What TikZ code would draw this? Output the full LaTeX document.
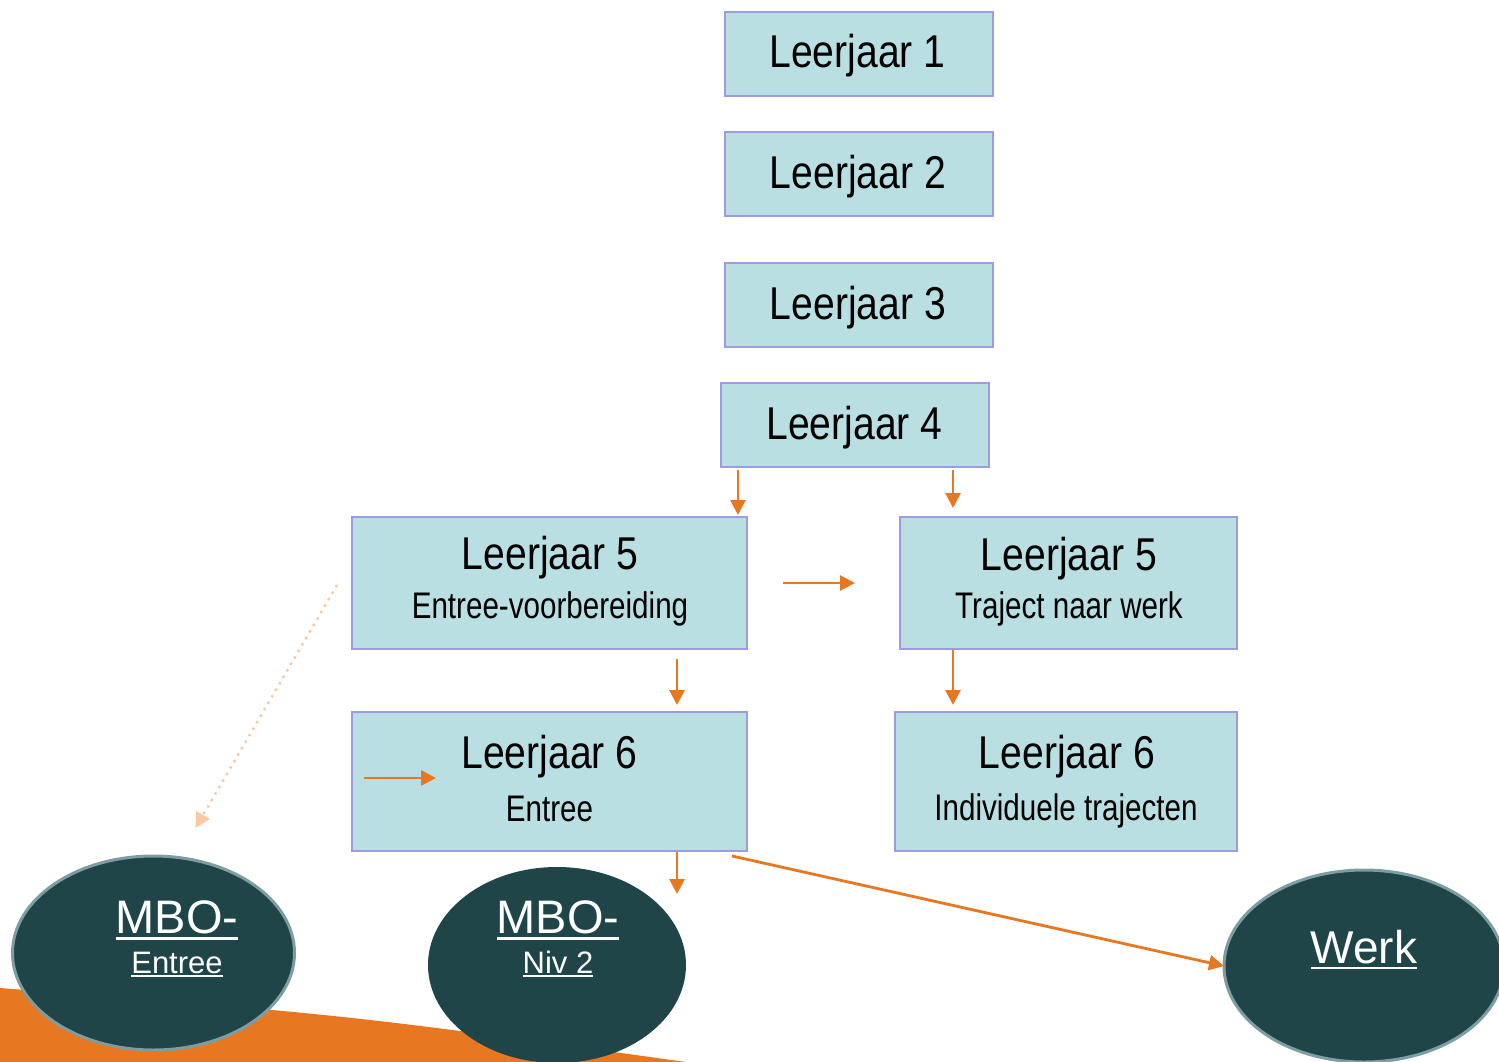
\documentclass[tikz,border=0pt]{standalone}
\usepackage{fontspec}
\setmainfont{Liberation Sans}
\newfontfamily\narrowA[FakeStretch=0.85]{Liberation Sans}
\newfontfamily\narrowB[FakeStretch=0.80]{Liberation Sans}
\usetikzlibrary{arrows.meta,calc,shapes.geometric}
\definecolor{boxfill}{HTML}{B9DFE3}
\definecolor{boxline}{HTML}{9E9CE0}
\definecolor{orangeA}{HTML}{E87722}
\definecolor{orangeL}{HTML}{F8C9A3}
\definecolor{tealdark}{HTML}{1F4549}
\definecolor{tealline}{HTML}{7D9DA0}
\newcommand\myul[1]{\setbox0\hbox{#1}\rlap{\copy0}\rule[-0.14em]{\wd0}{0.06em}}
\tikzset{
  yearbox/.style={rectangle, fill=boxfill, draw=boxline, line width=2pt, inner sep=0pt, outer sep=0pt},
  smallbox/.style={yearbox, minimum width=268pt, minimum height=84pt},
  titletext/.style={anchor=base, inner sep=0pt, font=\narrowA\fontsize{46}{50}\selectfont},
  subtext/.style={anchor=base, inner sep=0pt, font=\narrowB\fontsize{37}{40}\selectfont},
  endpoint/.style={ellipse, fill=tealdark, inner sep=0pt, outer sep=0pt},
  bigtext/.style={anchor=base, inner sep=0pt, text=white, font=\fontsize{47}{50}\selectfont},
  lowtext/.style={anchor=base, inner sep=0pt, text=white, font=\fontsize{31}{34}\selectfont},
  arr/.style={draw=orangeA, line width=2.8pt, -{Triangle[length=15pt,width=15pt]}},
  dotarr/.style={draw=orangeL, line width=2.5pt, dash pattern=on 2.5pt off 5pt, -{Triangle[length=15pt,width=15pt]}}
}
\begin{document}
\begin{tikzpicture}[x=1pt,y=-1pt]
\clip (0,0) rectangle (1499,1062);
% orange background
\fill[orangeA] (0,988) .. controls (350,1015) .. (700,1064) -- (0,1064) -- cycle;
% end points
\node[endpoint, draw=tealline, line width=3pt, minimum width=282pt, minimum height=194pt] (mboe) at (153.5,953) {};
\node[endpoint, minimum width=258pt, minimum height=196pt] (mbo2) at (557,965) {};
\node[endpoint, draw=tealline, line width=3pt, minimum width=280pt, minimum height=192pt] (werk) at (1364,966) {};
\node[bigtext] (mboea) at (177,933) {\myul{MBO-}};
\node[lowtext] (mboeb) at (177,973) {\myul{Entree}};
\node[bigtext] (mbo2a) at (558,933) {\myul{MBO-}};
\node[lowtext] (mbo2b) at (558,973) {\myul{Niv 2}};
\node[bigtext, font=\fontsize{46}{50}\selectfont] (werkt) at (1364,963) {\myul{Werk}};
% boxes
\node[smallbox] (l1) at (859,54) {};
\node[smallbox] (l2) at (859,174) {};
\node[smallbox] (l3) at (859,305) {};
\node[smallbox] (l4) at (855,425) {};
\node[yearbox, minimum width=395pt, minimum height=132pt] (l5a) at (549.5,583) {};
\node[yearbox, minimum width=337pt, minimum height=132pt] (l5b) at (1068.5,583) {};
\node[yearbox, minimum width=395pt, minimum height=139pt] (l6a) at (549.5,781.5) {};
\node[yearbox, minimum width=342pt, minimum height=139pt] (l6b) at (1066,781.5) {};
% texts
\node[titletext] (t1) at (857.5,68) {Leerjaar 1};
\node[titletext] (t2) at (858,188) {Leerjaar 2};
\node[titletext] (t3) at (858,319) {Leerjaar 3};
\node[titletext] (t4) at (854.5,439) {Leerjaar 4};
\node[titletext] (t5a) at (550,569) {Leerjaar 5};
\node[subtext] (s5a) at (550,618) {Entree-voorbereiding};
\node[titletext] (t5b) at (1069,570) {Leerjaar 5};
\node[subtext] (s5b) at (1069,618) {Traject naar werk};
\node[titletext] (t6a) at (549.5,768) {Leerjaar 6};
\node[subtext] (s6a) at (549.5,821) {Entree};
\node[titletext] (t6b) at (1067,768) {Leerjaar 6};
\node[subtext] (s6b) at (1066,820) {Individuele trajecten};
% free arrow ends
\coordinate (inA) at ($(l6a.west)+(12,-3.5)$);
\coordinate (inB) at ($(l6a.west)+(84,-3.5)$);
% connectors
\draw[arr] ($(l4.south west)+(17,3)$) -- ($(l5a.north east)+(-9,-2)$);
\draw[arr] ($(l4.south east)+(-36,3)$) -- ($(l5b.north west)+(53,-9)$);
\draw[arr] ($(l5a.east)+(36,0)$) -- ($(l5b.west)+(-45,0)$);
\draw[arr] ($(l5a.south)+(127.5,10)$) -- ($(l6a.north)+(127.5,-7)$);
\draw[arr] ($(l5b.south west)+(53,1)$) -- ($(l6b.north west)+(58,-7)$);
\draw[arr] (inA) -- (inB);
\draw[arr] ($(l6a.south)+(127.5,1)$) -- ($(mbo2.north)+(120,27)$);
\draw[arr] ($(l6a.south east)+(-15,5)$) -- (werk.west);
\draw[dotarr] ($(l5a.west)+(-15,2)$) -- ($(mboe.north)+(42,-28)$);
\end{tikzpicture}
\end{document}
